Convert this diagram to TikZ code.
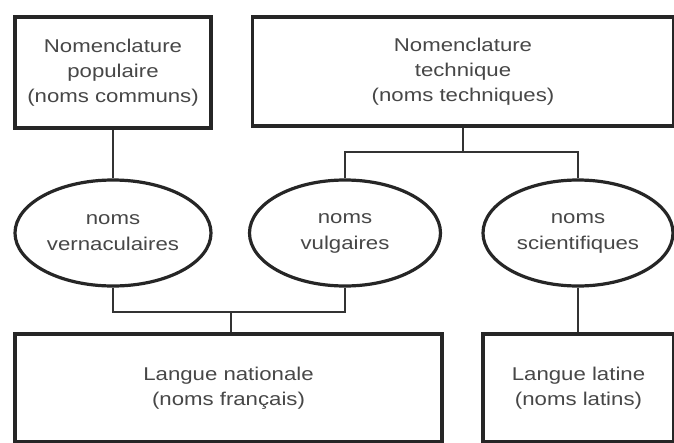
\documentclass[tikz,border=0pt]{standalone}
\usepackage{fontspec}
\setmainfont{Liberation Sans}[FakeStretch=1.2]
\usetikzlibrary{shapes.geometric}
\begin{document}
\begin{tikzpicture}[x=1pt,y=-1pt,
  box/.style={draw=black!85,line width=3.6pt,rectangle,align=center,inner sep=0pt,text=black!72,font=\fontsize{18.5}{25}\selectfont},
  oval/.style={draw=black!85,line width=3.2pt,ellipse,align=center,inner sep=0pt,text=black!72,font=\fontsize{18.5}{26}\selectfont},
  link/.style={draw=black!80,line width=2.5pt}]
\useasboundingbox (0,0) rectangle (674,442);
\clip (0,0) rectangle (674,442);
\fill[white] (0,0) rectangle (674,442);
\node[box,minimum width=196pt,minimum height=111pt] (b1) at (113,72.5) {Nomenclature\\populaire\\(noms communs)};
\node[box,minimum width=421pt,minimum height=109pt] (b2) at (463,71.5) {Nomenclature\\technique\\(noms techniques)};
\node[oval,minimum width=196pt,minimum height=106pt] (e1) at (113,233) {noms\\vernaculaires};
\node[oval,minimum width=191pt,minimum height=106pt] (e2) at (345,233) {noms\\vulgaires};
\node[oval,minimum width=190pt,minimum height=106pt] (e3) at (578,233) {noms\\scientifiques};
\node[box,minimum width=427pt,minimum height=108pt] (b3) at (228.5,388) {Langue nationale\\(noms français)};
\node[box,minimum width=191pt,minimum height=108pt] (b4) at (578.5,388) {Langue latine\\(noms latins)};
\coordinate (tj) at (463,152);
\coordinate (bj) at (231,312);
\draw[link] (b1.south) -- (e1.north);
\draw[link] (b2.south) -- (tj);
\draw[link] (e2.north) |- (tj) -| (e3.north);
\draw[link] (e1.south) |- (bj) -| (e2.south);
\draw[link] (bj) -- (bj |- b3.north);
\draw[link] (e3.south) -- (e3.south |- b4.north);
\end{tikzpicture}
\end{document}
